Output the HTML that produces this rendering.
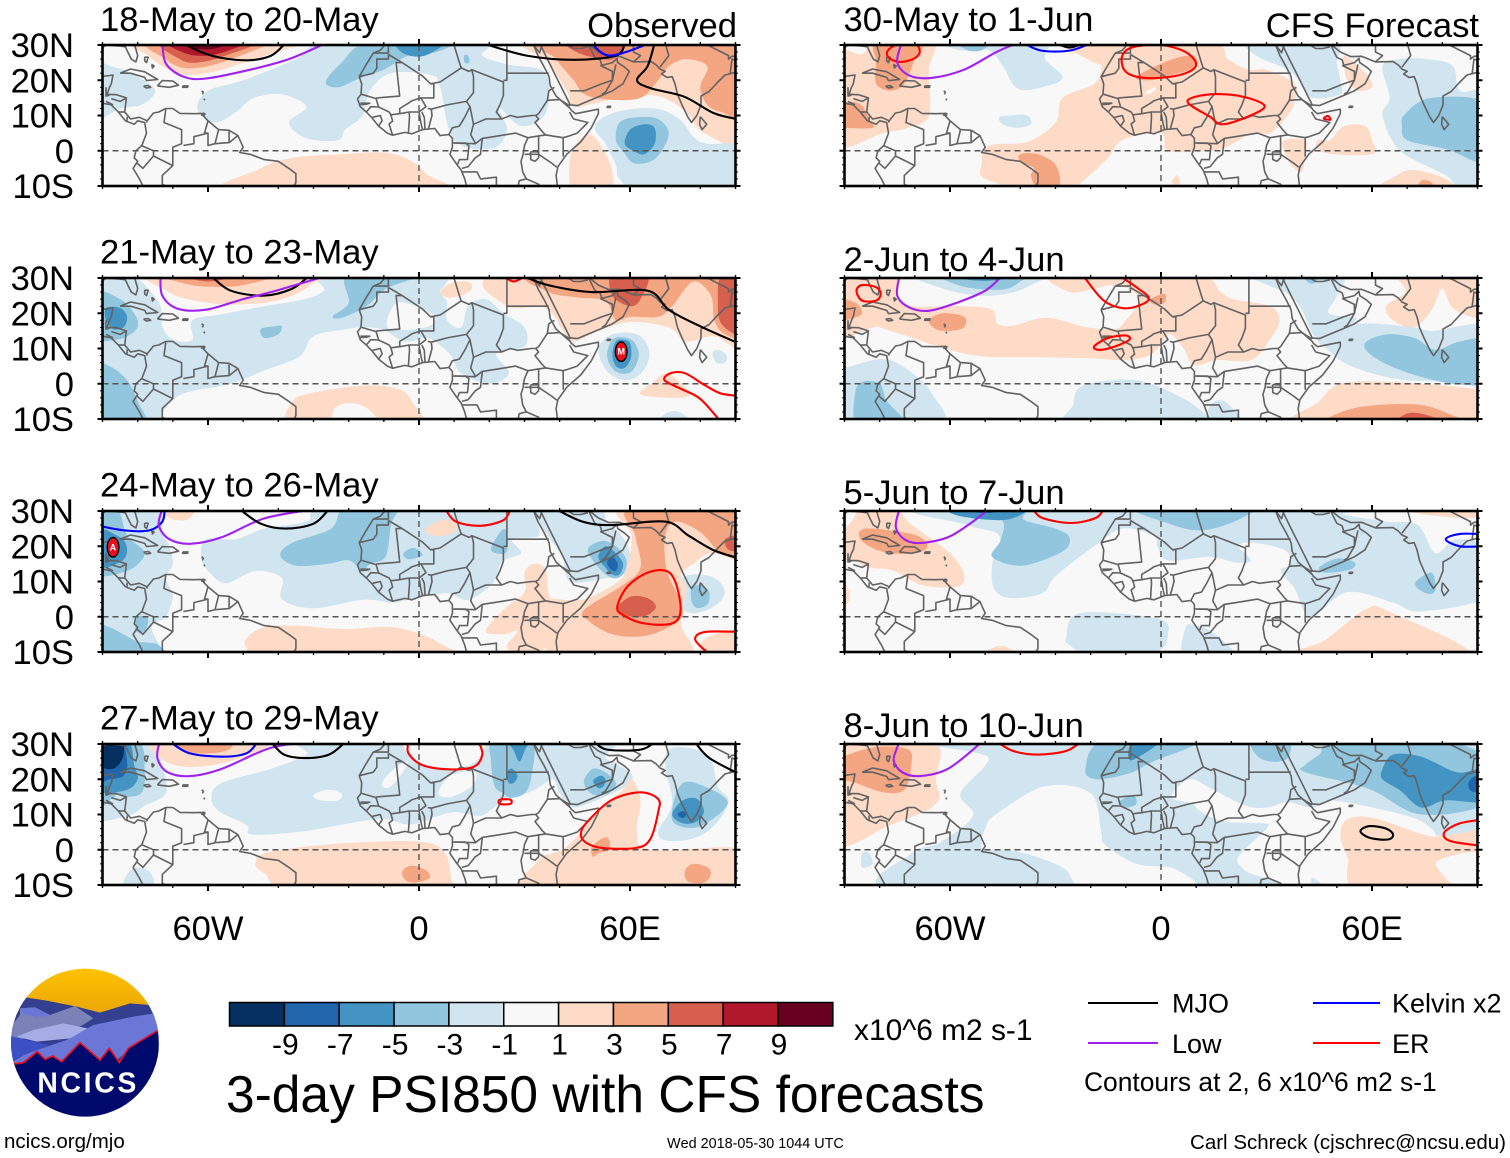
<!DOCTYPE html>
<html lang="en">
<head>
<meta charset="utf-8">
<title>3-day PSI850 with CFS forecasts</title>
<style>
html,body{margin:0;padding:0;background:#fff;}
svg{display:block;}
text{font-family:"Liberation Sans",sans-serif;fill:#000;font-kerning:none;}
</style>
</head>
<body>
<svg id="chart" xmlns="http://www.w3.org/2000/svg" width="1510" height="1158" viewBox="0 0 1510 1158">
<defs>
<linearGradient id="sky" x1="0" y1="0" x2="0" y2="1"><stop offset="0" stop-color="#ffc400"/><stop offset="1" stop-color="#e8a408"/></linearGradient>
<clipPath id="logoClip"><circle cx="255" cy="248" r="222"/></clipPath>
</defs>
<g id="panels"></g>
<g id="colorbar"></g>
<text x="854" y="1040" font-size="29.9">x10^6 m2 s-1</text>
<text x="226" y="1112" font-size="51.5">3-day PSI850 with CFS forecasts</text>
<g transform="translate(0,960) scale(0.33333)">
<g clip-path="url(#logoClip)">
<rect x="20" y="20" width="470" height="150" fill="url(#sky)"/>
<path d="M30,200 L75,112 L140,122 L230,140 L300,158 L390,130 L450,135 L480,200 L480,320 L30,320Z" fill="#34408f"/>
<path d="M30,205 L60,165 L60,145 L105,142 L150,165 L225,138 L280,175 L240,200 L30,245Z" fill="#7a82b8"/>
<path d="M60,145 L100,142 L150,165 L110,172 L65,160Z" fill="#6a77d6"/>
<path d="M30,310 L80,280 L200,240 L280,195 L400,170 L465,160 L480,210 L400,260 L350,300 L30,320Z" fill="#6a77d6"/>
<path d="M30,228 L100,245 L150,255 L60,290 L30,312Z" fill="#3c4fc4"/>
<path d="M50,230 L100,210 L190,190 L262,205 L210,235 L110,245Z" fill="#a6ade6"/>
<path d="M40,312 L70,308 L112,275 L135,298 L158,288 L185,305 L240,248 L300,300 L328,265 L358,308 L385,265 L472,212 L490,480 L20,480Z" fill="#000a6c"/>
<path d="M40,312 L70,308 L112,275 L135,298 L158,288 L185,305 L240,248 L300,300 L328,265 L358,308 L385,265 L472,212" fill="none" stroke="#e8101c" stroke-width="5"/>
</g>
<text x="112" y="398" font-size="85" font-weight="bold" textLength="297" style="fill:#fff">NCICS</text>
</g>
<text x="4" y="1148" font-size="20.5">ncics.org/mjo</text>
<text x="667" y="1148" font-size="14.4">Wed 2018-05-30 1044 UTC</text>
<text x="1190" y="1149" font-size="20.5" textLength="316">Carl Schreck (cjschrec@ncsu.edu)</text>
<g>
<line x1="1088" y1="1003" x2="1158" y2="1003" stroke="#000" stroke-width="2"/>
<text x="1172" y="1012.5" font-size="27">MJO</text>
<line x1="1313" y1="1003" x2="1380" y2="1003" stroke="#0000ff" stroke-width="2"/>
<text x="1392" y="1012.5" font-size="27">Kelvin x2</text>
<line x1="1088" y1="1043" x2="1158" y2="1043" stroke="#a020f0" stroke-width="2"/>
<text x="1172" y="1053" font-size="27">Low</text>
<line x1="1313" y1="1043" x2="1380" y2="1043" stroke="#ff0000" stroke-width="2"/>
<text x="1392" y="1053" font-size="27">ER</text>
<text x="1084" y="1091" font-size="26.4">Contours at 2, 6 x10^6 m2 s-1</text>
</g>
</svg>
<script>
// ---------- axis labels and colour bar values ----------
const latTicks = [30, 20, 10, 0, -10];
const latLabels = ["30N", "20N", "10N", "0", "10S"];
const lonTicks = [-60, 0, 60];
const lonLabels = ["60W", "0", "60E"];
const colorbarLevels = [-5, -4, -3, -2, -1, 0, 1, 2, 3, 4, 5];
const colorbarLabels = ["-9", "-7", "-5", "-3", "-1", "1", "3", "5", "7", "9"];
const leftTitles = ["18-May to 20-May", "21-May to 23-May", "24-May to 26-May", "27-May to 29-May"];
const rightTitles = ["30-May to 1-Jun", "2-Jun to 4-Jun", "5-Jun to 7-Jun", "8-Jun to 10-Jun"];
const stormMarks = [[1, 57.5, 9.1, "M"], [2, -87, 19.7, "A"]];

// ---------- geography (lon,lat pairs) ----------
const coastlines = [
[-81,30.5,-80,27,-80.5,25.2,-81.8,26,-82.8,28,-83.5,29.5,-85,29.7,-89,30,-90,29.2,-94,29.5],
[-94,18.5,-91,18.7,-90.5,21,-87,21.5,-87.5,19,-88,18,-88.7,16,-86,15.9,-83.2,15,-83.7,11,-82,9,-79.5,9.5,-77.3,8.5,-75.5,10.7,-74,11,-72,12,-70,12,-68,10.6,-64,10.5,-62,10.6,-60,8.5,-57,6,-54,5.8,-51.5,4.3,-50,1,-51,-0.5,-48,-1,-44,-2.5,-40,-3,-37,-5,-35,-6.5,-35,-9,-36,-11],
[-94,16,-90,13.5,-87.5,13,-85.5,11,-83.5,8.5,-81,7.5,-80,8.5,-78,8,-77.5,5,-78.8,1.5,-80.5,0,-81,-2,-80,-3,-81.3,-5,-79.5,-8,-78,-11],
[-85,22,-82,23.2,-78,22.4,-74.3,20.2,-77.5,19.9,-78,20.8,-82,22,-85,22],
[-74.4,18.4,-73,19.9,-70,19.8,-68.4,18.6,-71,18,-74.4,18.4],
[-78.3,18.3,-77,18.5,-76.3,18,-77.5,17.8,-78.3,18.3],
[-67.2,18.4,-65.7,18.4,-65.8,18,-67.2,18,-67.2,18.4],
[-78,26.6,-77,26.5,-77.5,25,-78,25.5,-78,26.6],
[-76,24.5,-75.3,24,-75.8,23.5,-76,24.5],
[-61.8,17,-61.3,16.6,-61.6,16],
[-61.2,14.8,-60.9,14.3],
[-61.6,10.7,-60.9,10.5,-61,10.1,-61.8,10.1,-61.6,10.7],
[-9.7,30,-11,28.5,-13,27.7,-15,24.5,-17,21,-16.3,19,-16.5,16,-17.5,14.7,-16.7,12.5,-15,11,-13.5,9.5,-11.5,7,-9,5,-7.5,4.4,-4,5.2,-2,4.8,1,6,4.5,6.3,6,4.3,8.5,4.6,9.5,3.5,9.5,1,8.8,-1,10.5,-3.5,12,-5.5,13,-8,13.8,-11],
[32.6,30,33.8,27,35.5,24,37,21,37.3,18.5,39,15.5,43,12,43.3,11.5,44.5,10.5,51,11.8,51,10.5,49,6.5,46,2.5,42,-1,39.5,-4.5,39,-7,39.5,-11],
[32.6,30,34.3,27.8,34.8,29.5,37,25,39,21,41,17,43,13,45,12.8,52,15.7,55,17,58,19,59.8,22.5,58.5,23.7,56.5,25,56.3,26.2,55,25,52,24.2,51.5,25.8,50,26.5,48.5,29.5,48.5,30,51,28,54,26.7,57,26.8,61,25.2,66,25.3,67.5,24.3,68.5,23.2,70,22.5,69,21.8,70.5,20.8,72,21,72.8,19,73.5,16,74.8,13,76.5,9.5,77.5,8,79,10,80.2,13,80.2,15.5,82.5,16.8,85,19.5,87,21.5,89,22,91,22.5,92,21,94.5,17],
[80,9.7,81.8,7.5,80.5,6,79.8,7.5,80,9.7],
[53.5,12.6,54.5,12.6,54.3,12.3,53.5,12.3,53.5,12.6],
[31.7,-0.3,34,-0.3,34,-2,33,-3,31.8,-2.5,31.7,-0.3],
[-13,27.7,-8.7,27.7,-8.7,30.5],
[-8.7,27.3,-8.7,26,-12,26,-12,23.4,-13,22,-17,21],
[-8.7,27.3,-4.8,25,1,21.2,3.3,19,4.2,19,4.2,15,0.5,15,-2,14.2,-3,13.5,-5.5,12,-5.5,10.5,-8,10.2,-8.5,11,-11.5,12.4,-12.2,14.8,-12,15,-5.5,15.5,-6.5,25,-4.8,25],
[-12.2,14.8,-16.3,16],
[-11.5,12.4,-13.7,12.5,-15,11],
[-16.7,13.5,-14,13.5,-15,13.2,-16.7,13.1],
[-13.2,9.5,-11,10,-10.5,8.5,-11.5,7],
[-8,10.2,-7.5,8.4,-8.5,7.6,-7.5,4.4],
[-3,5.1,-2.7,9.5,-2.8,11,-5.5,10.5],
[-2.8,11,0,11,2,12.5,0.5,15],
[1,6,0.5,8,0,11],
[1.7,6.2,1.5,9.5,0.8,11],
[2.7,6.3,3.7,10,3.5,11.8,2.5,12],
[3.3,19,6,19.5,12,23.5,14.2,22.5,15,23,15.5,21,15.5,16.5,13.5,14,8,13,3.5,11.8],
[15,23,24,19.5,24,15.7,23,13,22,11,23.5,9,19,9,15.5,7.5,14.7,4.5,16,2.2],
[25,30.5,25,22,36.9,22],
[25,22,25,20,24,20],
[9.8,30.5,11.5,25,12,23.5],
[8.5,4.6,9.5,6.5,11.5,7,13,9.5,14.5,12.5,13.5,14],
[14.5,12.5,15,10,15.5,7.5],
[9.6,2.2,16,2,18,3.5,22.5,4.2,27.5,5,31,3.7],
[18,3.5,17.5,-1,16,-2,14,-4.5,12.2,-5],
[10,2.2,13.2,2.2,14.2,1.4,13.8,-2.5,11.5,-2.5,11,-3.8],
[12.2,-6,16.5,-6,17.5,-8,22,-7.5,22,-11],
[31,3.7,30,1.5,29.6,-1,29,-3,29.5,-6,30.5,-8,28.5,-8.5,28,-11],
[23.5,9,26,10,28,9.5,32,10,33.2,10,34,9,33,8,35,5.5,36,4.5,34,4.2,31,3.7],
[34,10.5,36.5,14.3,36.9,17,38.5,18],
[33.2,10,34,10.5],
[36.5,14.3,40,14.5,43,12.7],
[42.8,11,44,9,48,8,45,5,42,4,41,3.7,36,4.5],
[41,3.7,41,-1.7],
[34,-1,37.7,-3.5,39.2,-4.7],
[30,-1,34,-1,34,1,34,4.2],
[30.5,-8,34,-9.5,34.5,-11.5],
[34.9,29.5,34.3,31.5],
[48,29.5,46,29,44,29,39,32],
[43,17,47,17,52,19,55,20,56,24.5],
[52,16,53,16.6,55,20],
[51.5,24.2,55,22.5,55,20],
[61,31,61,28,63,27,61,25.2],
[70,30.5,71,27,69.5,25,68.5,23.7],
[81,30.5,88,27,88,26,89,26.8,92,27,92,25,89,26,88.5,22],
[-92,18,-91,16,-92,14.5],[-89,18,-89,15.5,-88,15.8],[-89,14,-87,13],[-87.5,14.8,-85,14,-83.2,15],[-85.5,11,-83.7,11],[-83,8.5,-83,9.7],[-77.5,8,-77.3,8.5],
[-72,11.8,-72.5,8,-67.5,6,-67.5,2,-70,1,-70,-4.2,-73,-7,-73,-9.5,-70.5,-11],
[-79,1.5,-75.5,0,-75.5,-1.5,-70,-4.2],
[-80.3,-3.4,-78.5,-5,-75.5,-1.5],
[-60,8.5,-61,5,-60,5,-64,4,-64,2,-67,1.5],
[-57,6,-58,2,-60,1.5,-60,5],
[-54,5.8,-54,2.3,-58,2],
[-51.5,4.3,-54,2.3],
[-70.5,-11,-65,-10]
];

// ---------- shading regions per panel: [contour level, lon,lat pairs] ----------
const shadeObs1 = [
[1,[-79,31,-77,27,-71,23,-65,21.5,-56,23,-47,26,-37,29,-33,31]],
[2,[-76,31,-72,26,-67,23.5,-60,24,-52,26.5,-43,30,-40,31]],
[3,[-73,31,-68,26,-63,25,-55,27,-47,31]],
[4,[-71,31,-66,27.5,-60,27,-54,28.5,-50,31]],
[5,[-69,31,-64,29,-58,29,-55,31]],
[-1,[-25,31,-35,26,-50,20,-60,17,-63,12,-58,8,-52,11,-47,15,-39,16,-32,12.5,-37,8,-32,3.5,-23,3,-21,6,-16,10,-14,17,-8,22,3.4,21.5,6,18,10,3,21,0.7,25,6,22.5,12.5,29,7,36,10.6,36,22,25,24.5,18,27,17,31]],
[-2,[-26.5,19.5,-22,25,-14,31,9,31,5,28,-3,27,-10,23,-17,20.5,-23,18]],
[-3,[-6,31,-5,28,-1,26.7,3,27.5,7,31]],
[-2,[12.8,27,14,27,14.3,25,13,25]],
[-1,[-93,24,-86,23.5,-80,21,-75,17,-79,13,-85,12,-93,9]],
[1,[33,31,37,25,42,17,44,12.5,50,13.5,58,15,68,15.5,76,11,81,5,93,3,93,31]],
[2,[37,31,39,26,44,20,47,16,54,14.5,63,15,68,20,71,24,76,26,82,24,80,18,82,13,86,11,93,10,93,31]],
[3,[42,31,46,27.5,55,26,58,31]],
[-1,[50,7,56,11,67,12,74,9,78,4,82,2,93,1,93,-12,64,-12,57,-8,56,-4,53,2]],
[1,[44,-12,43,-2,46,3.5,49,4.5,52,1,55,-6,54,-12]],
[-2,[56,3,57,8,62,9.5,68,9,71,5,69,0,66,-3,61,-3.5,58,0]],
[-3,[58.5,2,60,6,64,7.5,67,6.5,67,2,64,-1,61,0]],
[1,[-55,-12,-45,-5,-36,-2,-22,-1,-10,-0.5,-3,-2.5,2,-6.5,6,-12]]
];
const shadeObs2 = [
[-1,[-93,31,-82,31,-74,23,-73,16.3,-70,12.5,-64.5,12.5,-64.5,18,-56,19.7,-44,22,-32.5,24,-27,26.5,-27,31,6,31,6,26,8,23,8,18,12,16,14,22,19,24,24,20,30,16,30,10.6,22,8.6,25.6,3,20,0,12,3,9.3,7.7,6.4,10.6,2.3,13,-4,12,-10.5,15.4,-16,16,-21,15.4,-30,13.5,-34,7.7,-44,3.8,-53.5,0,-67.5,-3,-73,-8.7,-71.5,-12,-93,-12]],
[0,[-9,16,-6,23,3.5,20,4,17,-1,15.5]],
[-2,[-93,26,-85,24,-81,20,-80,16,-84,13,-90,12,-93,12]],
[-2,[-93,5,-88,5,-83,1,-80,-5,-78,-12,-93,-12]],
[-3,[-89,21.5,-85,21.5,-83,19,-84,16,-87,15.5,-89,18]],
[-2,[-24.5,19.2,-20,23,-20,31,0,31,-9.3,27,-15,22,-22,18.7]],
[-2,[-45,15.5,-41,16.3,-39,16.3,-40,14,-44,13]],
[-1,[51,9,53,13,58,14.5,63,13.5,65.5,9,64,4,59.5,1,54,3]],
[-2,[53.5,8.5,55,12.5,58,13.2,61,12,62.5,8,60.5,3.5,57,3,54.5,5]],
[-3,[55,8.5,56,12,58,12.5,60,11.5,60.3,7.5,58.5,4.5,56,5]],
[-4,[56,9,57.2,11.5,58.7,11,59,8,57.5,6.5]],
[-1,[83.5,9,85.5,9.5,87.5,8,87,6,84.5,6]],
[-1,[68,-12,70,-8.5,74,-8,78,-12]],
[1,[-75,31,-72,26.5,-66,24,-55,22.5,-44,23,-36,25,-31,28,-30,31]],
[2,[-72,31,-67,28.5,-60,27.5,-50,28,-42,31]],
[3,[-68,31,-62,29.2,-57,29.3,-52,31]],
[1,[-35,-12,-36,-5,-30,-2.5,-15,-0.5,-6,-1.5,-2,-5,-1,-12]],
[0,[-23.5,-12,-24,-7,-19,-5.5,-14,-7.5,-12,-12]],
[1,[6,26,9,28.5,14,29,15,27,12,25,8,24.5]],
[1,[23,31,25,22,36,21.5,41,15,44,12,51,15,60,17.5,71,16,76,12,84,13.5,93,10,93,31]],
[2,[34,31,37,26,45,24.5,53,23.5,56,18,60,19,68,19,72,22,78,29,83,25,84,18,87,14,93,14,93,31]],
[3,[55,31,55,25,60,22,63,24,65,31]],
[3,[86,31,85,22,86,17,90,14,93,14,93,28]],
[1,[63,-3,66,0,70,3,73,1.5,77,-3,72,-4]]
];
const shadeObs3 = [
[-1,[-93,31,-74,31,-73,24,-71,20,-70,15,-72,11,-70,6,-72,0,-76,-3,-74,-12,-93,-12]],
[-1,[-60.5,22,-52,22,-44,25,-32,27,-24.5,31,30,31,33,28,34,23,26.5,22,29,18,23.5,15.5,21,9.6,14,4.8,8,6.7,-2,5,-7.5,4,-16,4.8,-30,2.4,-39,5,-39,11,-46.5,13,-55,9.5,-60,13,-62,17]],
[-1,[32.5,31,36,24,40.7,17,43,10,53.5,11,60,13.5,59,21,53.5,27,50.6,31]],
[-1,[74,10,78,12,84,11,87,7,84,3,78,1,74.5,3]],
[-2,[-39.5,17.5,-36,21,-25,25,-21,31,-7,31,-8,26,-9.5,17,-14,15,-16,13,-20,16,-26,15,-35,14.5]],
[-2,[-4.5,18,-1.5,19.5,1,17.5,-3,16.3]],
[-2,[20.5,19.5,23.5,24.5,25,24,25,18.5,22,18]],
[-2,[-93,31,-86,31,-83,23,-78,18,-83,13,-93,13]],
[-3,[-93,25,-85,22.5,-83,19,-85,15.5,-93,14]],
[-2,[-93,-2,-88,-3,-84,-5,-80,-7,-74,-8,-74,-12,-93,-12]],
[-2,[-80,0,-77,-0.5,-78,-4,-80.5,-4]],
[-2,[48,19,52,21.5,56,20,59,16,58,12,55,11,51,14]],
[-3,[51,17,53,20,56,18,58,15,57,12,55,12,53,14]],
[-4,[53.5,15.5,55,17,56.5,15,56,13,54.5,13.5]],
[-2,[77.5,8,80,9,82.5,7,82,3.5,79,2.5,77.5,4.5]],
[1,[-72,31,-71,28,-66,27.5,-64,31]],
[1,[2,25,7,27.5,11,26,9,23.5,4,23]],
[1,[19,-4,24,2,30,7,30,12.5,32.5,15,36,13.5,37,6,39.5,5,47,5,56,9.5,59,13.5,60.5,23,58,31,93,31,93,17,83,18,78,15,74.5,12,76,8,74.5,-2,76,-12,40,-12,36,-9,33,-11,25,-9,28,-4,24,-5]],
[2,[60.5,31,61.5,23,63,14,58,9,47,2,48,-1,55,-5,65,-5.3,74,-1,74.5,4,70.5,13,70,23,73,27,80,24,86,18,93,17,93,31]],
[3,[57,3.4,60.5,5.8,65,5.3,67.4,2.9,65,0.5,60.5,0,57,1.4]],
[3,[87,22,91,23,91,19,88,19]],
[1,[-49,-6,-44,-3,-35,-2.5,-21,-3.5,-7,-3,5,-7,7,-12,-44,-12,-49,-9]],
[1,[80,-8,84,-5,93,-4,93,-12,82,-12]]
];
const shadeObs4 = [
[-1,[-59,15,-56,19,-42,23,-32,27,-28,31,49,31,53,26,60,22,60,19,55,16,44,12,40,16,38,20,33,17,26,14.4,22,12.5,17.4,9.6,9.3,10.6,-2.3,7.2,-11.6,8.7,-32.5,5.3,-47.5,4.3,-49,7,-57,11]],
[0,[-30,15.5,-26,17,-22,16,-23,14,-28,14]],
[0,[-10.5,19,-7,23,-3,25,-6,20,-9,17.5]],
[0,[-3,31,-2,26,3,23,10,23,16,25,17.5,31]],
[0,[5.5,16,9,21,16,22,15,18,9,15]],
[-1,[-93,31,-76,31,-73,24,-72,16,-78,12.5,-83,9.6,-93,10]],
[-2,[-93,31,-80,31,-78,22,-79,16,-84,15,-86,15.5,-93,12]],
[-3,[-93,31,-83,31,-81,24,-80,20,-83,17,-90,16,-93,17]],
[-4,[-93,31,-85,31,-83,25,-84,21,-88,20,-93,19]],
[-5,[-93,31,-85,31,-84,27,-86,23.5,-89,23,-93,25]],
[-1,[-84,-12,-83,-7,-80,-5,-76,-7,-76,-12]],
[-2,[21,31,20.5,25,21.5,18,24,16,26,14.8,30,16,32,21,32,31]],
[-3,[25.5,31,27,28,28.5,25,30,28,31,31]],
[-3,[25,22,26.5,23,28,21,27,19,25.5,19]],
[-2,[47,20,49.5,23,53,22,56,19,54,16,50,15.5,47.5,17.5]],
[-3,[49.5,19.5,51.5,21,53,20,52.5,18,51,17.5]],
[-1,[68,5,72,13,70,24,72,29,82,27,85,18,88,14,85,8,79,3.5,71,2.5]],
[-2,[72,11.5,74.4,18.3,79,18.8,87.8,13.5,80,6.7,73,7.2]],
[-3,[72,10,75,14,79,14.5,81,11,79,8,75,7.5]],
[-4,[73.5,10,75,11,76,10,75,9]],
[1,[-75,31,-72,25,-63,23.5,-51,26,-43,31]],
[2,[-70,31,-64.5,27.5,-55,28,-54,31]],
[1,[-46.5,-3.8,-42,-0.5,-18.6,2,4.6,1.4,9.3,-8.7,8.7,-12,-35,-12,-44,-6.7]],
[2,[-4.7,-6,-2,-4.5,2,-5.8,3,-8,-1,-9.3,-4,-8.5]],
[1,[33,-12,34,-3,38,-1,41.5,0.5,46,5,52,12,58,17,60.5,20,63,14,62,5,66,0,93,0,93,-12]],
[2,[49,0.5,52,3.2,54,3,54,0,51,-1,49.5,-2]],
[2,[75.6,-6,78,-4,82,-5,83,-7,81,-9.3,76.5,-9]]
];
const shadeFcst1 = [
[1,[-93,27,-85,27.4,-81,31,-65,31,-66,23,-66,10,-72,6.5,-79,5,-93,2]],
[2,[-81,31,-68,31,-70,26,-73,19,-77,17,-81,19,-81,25]],
[2,[-93,13,-86,13.5,-83,9,-82,6.5,-90,6.5,-93,7]],
[1,[-26,31,-20,25.5,-17,24,-19,19,-28,15,-30,8,-38,2.5,-49,1.4,-51,-4,-50,-8,-35,-12,-27,-12,-16,-3,-11,3,0,5,2,0,13,0,18.5,1,26,5,31,5,36,10,38,14,38,19,30,23,25,23,19,26,13,31]],
[1,[35,3,41,3,41,-1,40,-6,37,-4,35,0]],
[1,[44.5,3,48,3,52,7,58,7,60,3,60,-1,46,-0.5]],
[1,[52,27,55,25,59,21,60,18,56,17,53,20,52,24]],
[2,[-7,21,2,25.5,9,27,10,24,5,22,-3,20]],
[2,[-40,-1,-35,-1,-30,-4,-29,-10,-35,-10.5,-37,-7,-36,-5,-40,-3]],
[1,[61,-12,67,-7,72,-5.5,81,-8,83,-12]],
[2,[72.5,-12,74,-8.5,77,-9,78,-12]],
[1,[3,-9,4.5,-7,5.5,-9,5,-10]],
[0,[-4.5,16.5,-2,18,-1.5,17.3,-3.5,16]],
[-1,[-61.6,31,-57,28.5,-49,28.5,-45,24,-40.5,17.5,-32,18.5,-28,21,-33,26,-34,31]],
[-2,[-58,31,-55,28.5,-51,28.5,-49,31]],
[-1,[25.5,31,27,27,36,23,40,19,43,15,51,16,51,20,50,25,49,31]],
[-1,[63,24,68,26,76,26,83,24,85,17,93,15,93,-12,85,-11,81,-7,68,0,63,10,65,15]],
[-2,[69.5,10.5,77,15,93,13,93,-3,81,0.5,70,3,68.5,7]],
[-1,[-46,9.5,-43,10,-38,10,-37,7.5,-41,6.5,-45,7.5]]
];
const shadeFcst2 = [
[1,[-93,31,-76,31,-75,24,-70,22,-56,22,-48,21,-46.5,17,-42,16.5,-32.6,18.7,-21,16,-13,15.5,-10,18,-6,24,-12,28,-19,27,-26,26,-30,31,9,31,17,26,20.5,24,31,22,33.7,18,31,12.5,25.6,6.7,16,6.7,9.3,5.3,6.4,10,2.3,14,-2.3,8.7,-9.3,6.7,-20,7.2,-36,7.5,-50,7.7,-60,9.6,-77,15,-82,16,-90,12.5,-93,12]],
[2,[-93,24,-87,23,-85,20,-88,18.5,-93,18]],
[2,[-66,18,-62,20,-56,19,-56,16,-60,15,-64,15.5]],
[2,[-3,24,1,25.5,1,23,-2,22.5]],
[1,[64,22,69.5,26,69,31,93,31,93,19,83.5,21,80,27,77,21,72,16,66,18]],
[1,[39,-12,45,-5,51,0,65,0.5,85,-1,93,-3,93,-12]],
[2,[48,-12,54.6,-7,72,-5.8,82,-8.6,86,-12]],
[3,[66,-12,68,-9.5,72,-8.2,79,-10,80,-12]],
[-1,[-69,31,-62,27,-52,25,-44,25.5,-38,27.5,-35,31]],
[-2,[-62,31,-56,27.5,-45,26.7,-40,29,-39,31]],
[-3,[-61,31,-53,29.3,-46,29.5,-43,31]],
[-1,[25.6,31,36,25.5,40,21,44.8,13,55.6,18.3,47.7,20,50,25,50.5,31]],
[-2,[41,31,41.5,29,43.5,28.5,45,31]],
[-1,[45,13,56,17,72,16,77,15,93,16,93,-1,85,0.5,70,1,60,3,52,6,47,10]],
[-2,[58,11.5,64,14,72,13,78,9.6,85,12,93,12,93,1,83,0,69,3.5,60,8]],
[-1,[-93,3,-88,5,-79,7,-72,4,-65,-3,-63,-12,-93,-12]],
[-2,[-87,-3,-85,0.5,-80,0,-78,-4.8,-73.5,-9.6,-72,-12,-86,-12]],
[-1,[-25,-12,-25,-6,-22,-0.5,-7,1,6,-4,13,-9,15,-12]],
[-1,[14,-12,14,-6,18,-5,23,-10,24,-12]]
];
const shadeFcst3 = [
[1,[-85,31,-76,31,-72,27,-68,24,-60,18,-56,12,-58,8.5,-68,9,-76,13,-83,14,-88,16,-93,16,-93,22,-88,27]],
[1,[-93,8,-89,8,-89,4,-93,3]],
[2,[-85.5,22,-84,25,-71,23.5,-66.7,21,-67.5,18.7,-73,17.8,-80,18.7]],
[1,[36,-12,46.5,-6.7,58,2,65,1.4,88,-12]],
[1,[-53,-12,-47,-8.5,-43,-9,-41,-12]],
[1,[67,24,69,25.5,73,24,73,20,70,18.5,68,20]],
[1,[70,31,75,29,90,28,93,31]],
[-1,[-65,31,-55,26,-46,23,-48,15,-47.5,8,-43,5.3,-33.7,6.7,-30,11.5,-19,20,-11,25,-2,23,-1,20,2,16,14,17,21,15.4,25.6,16,22,20,26,21,35,19,37,15,34,13,38,8,40,3,43,0,53,7,66,4,74,1.5,93,6,93,19,84,22,78,18,73,26,64,27,52,29,48,31]],
[-2,[-60.5,31,-46,28,-45.5,22,-48,17,-39.5,14.5,-28,18.5,-26,22.5,-30,25,-39,27.5,-39.5,31]],
[-3,[-60,31,-57,28.5,-44,27.5,-39,31]],
[-4,[-56,31,-52,29.5,-47,29.7,-45,31]],
[-2,[-7,31,2,26.5,12,24.5,23,28,24,31]],
[-2,[45,14,50,16.5,55,15.5,54,13.5,47,12.5]],
[-2,[72.5,10,77,12.5,78,7.5,76,6.5,73,8]],
[-1,[-27,-6,-23,1,-1,-0.5,2,-5,-2,-10,-21,-10,-26,-8]],
[-1,[7,-12,7,-3,10,-2.5,14,-4,20,-9,22,-12]],
[-1,[-93,-8,-88,-12,-93,-12]]
];
const shadeFcst4 = [
[1,[-93,31,-65,31,-64,20,-64,13,-77,7,-93,2]],
[2,[-93,25,-82,29,-72,28.5,-71,24,-73,17,-79,16.3,-87,19,-93,21]],
[1,[51,4,53,8.6,60.5,9,77,3.8,83,5.8,93,6.7,93,0,82,-3,81,-6,93,-12,57,-12,53,-2]],
[0,[79,-3,91,-1,91,-11,85,-11,80,-7]],
[-1,[-58,31,-49,26,-57,16,-53.5,9.6,-63,2,-71,-1,-74,-12,30,-12,24,-6,22,-2,30,6,29,7.5,18,8,11,11,9,13,3,15,8,20,14,17.5,24,12.5,30,12,36,13.5,43,12,48,14,60,12,72,9,77,6,80,4,93,9,93,31]],
[0,[-47,10,-33,18,-20,16,-17,5,-16,1.5,-7,-4,4,-5.5,10,-12,-20,-12,-28,-5,-41,-0.5,-50,0,-51,2,-50,6]],
[-2,[-21.5,23,-16,31,10.5,31,-2.3,25,-9.3,21.6,-18.6,20]],
[-3,[-9,29,-6,31,0,31,-6,26.5,-9,25.5]],
[-2,[26,31,27,27,31,25,36,26,36,31]],
[-2,[-12,13.5,-8,15.5,-7,13,-10,12]],
[-2,[41,24,45,27,50,31,79,31,93,25.5,93,13.5,74,10,59,17.3,41,22]],
[-3,[63,23,66,27,74,26.4,84,22,90,23,93,23,93,14,81,14,74,12,68,16.8,63,20]],
[-4,[88,20,93,22,93,16.5,88,16.8]],
[-1,[-85,-1,-83,-1,-82,-4,-85,-5]],
[-1,[43,-12,43,-8,46,-10,47,-12]]
];

// ---------- wave contours per panel: [wave type, closed flag, lon,lat pairs] ----------
const contourObs1 = [
["low",0,[-73,31,-72,24.8,-67,21,-60.5,20.5,-48,23,-37,26,-26.5,30.5]],
["mjo",0,[-67,30.5,-62,28,-56,26.3,-48,25.7,-42,27,-38,30.5]],
["mjo",0,[18,30.5,30.6,27,44,25.8,56,27,58.5,30.5]],
["kelvin",0,[49,30.5,54,27,63,29.5,64,30.5]],
["mjo",0,[67,30.5,65,24,62,20,66,17.7,75.5,15.3,84,10.6,92,8.7]]
];
const contourObs2 = [
["mjo",0,[-59,30.5,-53.5,26.4,-44,25,-36,27,-31.4,30.5]],
["low",0,[-73.5,30.5,-73,25,-68.6,21.3,-60.5,21,-50,24,-40.7,26.4,-26.7,30.5]],
["mjo",0,[29.7,30.5,37,27.9,49,26,65,26.4,71,21,80,16.3,92,11]],
["er",0,[24,30.5,27,29,30,30.5]],
["er",0,[86,-11,80,-4.3,74.4,-1.4,69.8,1,71.5,3,75.6,3,81.4,-0.5,86,-2.8,92,-3.5]]
];
const contourObs3 = [
["kelvin",0,[-92,26,-83.7,24.5,-76.7,24.5,-73,27,-72.3,30.5]],
["low",0,[-73,30.5,-74,26,-71,22,-65,20.7,-56,22.6,-44,27.9,-30,30.5]],
["mjo",0,[-51,30.5,-45,26.4,-38,25,-30,26.4,-25.6,30.5]],
["er",0,[7.5,30.5,10.5,27,17.4,25.8,24,27.4,26,30.5]],
["mjo",0,[39,30.5,46.5,27,54.6,26,70,27,76.7,23,84,18.8,92,16.3]],
["er",1,[56.4,2.9,59.3,8.6,65,12.5,70.3,13,73,9.6,74.4,1.9,72,-1.9,64,-1.9,58,0.5]],
["er",0,[92,-4.3,81.4,-4.3,78.5,-6.3,81.4,-9.6,84,-11]]
];
const contourObs4 = [
["kelvin",0,[-70.6,30.5,-65.3,27.4,-56,26.4,-49,27.4,-46,30.5]],
["low",0,[-73.8,30.5,-74.4,26,-71.5,22,-65,20.9,-56,23,-42.5,28.8,-31.4,30.5]],
["mjo",0,[-42,30.5,-38.4,27,-32.6,26,-25.6,27,-21,30.5]],
["er",0,[-3,30.5,-3,27.4,1,24,9,22.8,15.7,23.6,18,27,17,30.5]],
["er",1,[23,14.2,26,14.2,26,13,23,13]],
["er",1,[46,4.3,47.7,7.7,54.6,14,62.8,16.3,68,14.4,68,10.6,65.7,2.9,61.6,0.5,52.3,0.5,47.7,1.9]],
["mjo",0,[50,30.5,53.5,28.4,63,28.4,67,30.5]],
["mjo",0,[78.5,30.5,82.6,26,92,21]]
];
const contourFcst1 = [
["er",1,[-77.7,28.4,-74.4,30.5,-70,30.5,-68.6,28,-70.5,26,-74.4,25.2,-77.4,26.4]],
["low",0,[-73.8,30.5,-75,25,-71.5,21.3,-65,20.7,-56,23,-47,27.9,-41,30.5]],
["kelvin",0,[-39,30.5,-34,28.4,-26,28.4,-20,30.5]],
["mjo",0,[-30,30.5,-26,29.3,-22,30.5]],
["er",1,[-11,27,-8,29.4,0,30,7,28,10,24.5,7,22,0,20.7,-7,21,-10.5,23]],
["er",1,[7.5,14,14,16,23,15.4,29.5,12.7,24.5,9.6,17.4,7.5,14,9.6]],
["er",1,[46.3,9.1,47.4,9.9,48.2,8.8]]
];
const contourFcst2 = [
["er",1,[-86.6,26.4,-85,28,-81,27.4,-79.7,25.5,-81,23.6,-85,23.6]],
["low",0,[-74.4,30.5,-75,25,-71.5,21.6,-66,20.7,-58,23,-50,26.4,-45.3,30.5]],
["er",0,[-22,30.5,-16.3,23.6,-10.5,21.4,-5.2,22.6,-3.5,24.5,-7,27.4,-11.6,30.5]],
["er",1,[-19,10.6,-15,13,-10,13.7,-9,12.5,-13,10.6,-17.5,9.6]]
];
const contourFcst3 = [
["low",0,[-74.4,30.5,-75.4,25.5,-73,22,-68.6,20.9,-60.5,22.6,-53.5,27,-49,30.5]],
["er",0,[-36.4,30.5,-33.7,28,-25.6,26.6,-18.6,28,-16.3,30.5]],
["kelvin",0,[92,23.4,85,23.5,81,22,85,20,92,20]]
];
const contourFcst4 = [
["low",0,[-74.4,30.5,-76,25.5,-73.6,22,-68.6,20.9,-60.5,23,-51,30.5]],
["er",0,[-46.5,30.5,-42,28,-35,27,-27,28,-23,30.5]],
["mjo",1,[56.7,5.3,59.3,6.7,64,6,66,4.3,64.5,2.9,59.3,3.4]],
["er",0,[92,8.6,85,7.5,80.5,4.8,82.5,2.4,92,1]]
];

const leftShades = [shadeObs1, shadeObs2, shadeObs3, shadeObs4];
const rightShades = [shadeFcst1, shadeFcst2, shadeFcst3, shadeFcst4];
const leftContours = [contourObs1, contourObs2, contourObs3, contourObs4];
const rightContours = [contourFcst1, contourFcst2, contourFcst3, contourFcst4];

// ---------- styling and axis functions ----------
const levelFill = {"-5":"#053061","-4":"#2166ac","-3":"#4393c3","-2":"#92c5de","-1":"#d1e5f0","0":"#f8f8f8","1":"#fddbc7","2":"#f4a582","3":"#d6604d","4":"#b2182b","5":"#67001f"};
const waveStroke = {mjo:"#000000",low:"#a020f0",kelvin:"#0000ff",er:"#ff0000"};
const SVGNS = "http://www.w3.org/2000/svg";
const panelTops = [45, 278, 511, 744];
const columnLefts = [102.5, 844.5];
const mapWidth = 633, mapHeight = 141;
function xScale(left, lon){ return left + (lon + 90) * mapWidth / 180; }
function yScale(top, lat){ return top + (30 - lat) * mapHeight / 40; }
function mk(tag, parent, attrs){
  const el = document.createElementNS(SVGNS, tag);
  for (const k in attrs) el.setAttribute(k, attrs[k]);
  parent.appendChild(el);
  return el;
}
function toPoints(flat, left, top){
  const pts = [];
  for (let i = 0; i + 1 < flat.length; i += 2) pts.push([xScale(left, flat[i]), yScale(top, flat[i + 1])]);
  return pts;
}
function smoothPath(pts, closed){
  const n = pts.length;
  const at = function(i){ return closed ? pts[(i + n) % n] : pts[Math.max(0, Math.min(n - 1, i))]; };
  let d = "M" + pts[0][0].toFixed(1) + "," + pts[0][1].toFixed(1);
  const segs = closed ? n : n - 1;
  for (let i = 0; i < segs; i++) {
    const p0 = at(i - 1), p1 = at(i), p2 = at(i + 1), p3 = at(i + 2);
    const c1x = p1[0] + (p2[0] - p0[0]) / 6, c1y = p1[1] + (p2[1] - p0[1]) / 6;
    const c2x = p2[0] - (p3[0] - p1[0]) / 6, c2y = p2[1] - (p3[1] - p1[1]) / 6;
    d += "C" + c1x.toFixed(1) + "," + c1y.toFixed(1) + " " + c2x.toFixed(1) + "," + c2y.toFixed(1) + " " + p2[0].toFixed(1) + "," + p2[1].toFixed(1);
  }
  return d + (closed ? "Z" : "");
}
function linePath(pts){
  return pts.map(function(p, i){ return (i ? "L" : "M") + p[0].toFixed(1) + "," + p[1].toFixed(1); }).join("");
}
function rank(level){
  const a = Math.abs(level);
  return a === 1 ? 0 : (a === 0 ? 1 : a);
}

// ---------- draw panels ----------
const panelsRoot = document.getElementById("panels");
const svgRoot = document.getElementById("chart");
const defs = svgRoot.querySelector("defs");

function drawPanel(col, row, title, titleBaseline, shades, contours){
  const left = columnLefts[col], top = panelTops[row];
  const g = mk("g", panelsRoot, {});
  
  

  const clipId = "clip" + col + row;
  const clip = mk("clipPath", defs, {id: clipId});
  mk("rect", clip, {x: left, y: top, width: mapWidth, height: mapHeight});

  const plot = mk("g", g, {"clip-path": "url(#" + clipId + ")"});
  const bg = mk("rect", plot, {x: left, y: top, width: mapWidth, height: mapHeight, fill: "#f8f8f8"});
  
  

  shades.slice().sort(function(a, b){ return rank(a[0]) - rank(b[0]); }).forEach(function(s){
    const p = mk("path", plot, {d: smoothPath(toPoints(s[1], left, top), true), fill: levelFill[String(s[0])]});
    
    
  });

  coastlines.forEach(function(c){
    const p = mk("path", plot, {d: linePath(toPoints(c, left, top)), fill: "none", stroke: "#626262", "stroke-width": 1.6, "stroke-linejoin": "round"});
    
    
  });

  const eq = mk("line", plot, {x1: left, x2: left + mapWidth, y1: yScale(top, 0), y2: yScale(top, 0), stroke: "#555555", "stroke-width": 1.4, "stroke-dasharray": "6 4"});
  
  
  const pm = mk("line", plot, {x1: xScale(left, 0), x2: xScale(left, 0), y1: top, y2: top + mapHeight, stroke: "#555555", "stroke-width": 1.4, "stroke-dasharray": "6 4"});
  
  

  contours.forEach(function(c){
    const p = mk("path", plot, {d: smoothPath(toPoints(c[2], left, top), c[1] === 1), fill: "none", stroke: waveStroke[c[0]], "stroke-width": 2.1});
    
    
  });

  stormMarks.forEach(function(m){
    if (col !== 0 || m[0] !== row) return;
    const cx = xScale(left, m[1]), cy = yScale(top, m[2]);
    const s = mk("g", plot, {});
    
    
    mk("ellipse", s, {cx: cx, cy: cy, rx: 6.5, ry: 10.5, fill: "#000"});
    mk("ellipse", s, {cx: cx, cy: cy, rx: 5.2, ry: 9, fill: "#e8101c"});
    const t = mk("text", s, {x: cx, y: cy + 3, "font-size": 9, "font-weight": "bold", "text-anchor": "middle", style: "fill:#fff"});
    t.textContent = m[3];
  });

  // ticks
  const ticks = mk("g", g, {stroke: "#000"});
  
  
  for (let lon = -90; lon <= 90; lon += 10) {
    const major = lonTicks.indexOf(lon) >= 0;
    const len = major ? 6 : 3, x = xScale(left, lon);
    mk("line", ticks, {x1: x, x2: x, y1: top, y2: top - len, "stroke-width": major ? 2 : 1.3});
    mk("line", ticks, {x1: x, x2: x, y1: top + mapHeight, y2: top + mapHeight + len, "stroke-width": major ? 2 : 1.3});
  }
  for (let lat = -10; lat <= 30; lat += 2) {
    const major = lat % 10 === 0;
    const len = major ? 5 : 2.5, y = yScale(top, lat);
    mk("line", ticks, {x1: left, x2: left - len, y1: y, y2: y, "stroke-width": major ? 2 : 1});
    mk("line", ticks, {x1: left + mapWidth, x2: left + mapWidth + len, y1: y, y2: y, "stroke-width": major ? 2 : 1});
  }

  const frame = mk("rect", g, {x: left, y: top, width: mapWidth, height: mapHeight, fill: "none", stroke: "#000", "stroke-width": 2.6});
  
  

  const tt = mk("text", g, {x: col === 0 ? 100 : 843.5, y: titleBaseline, "font-size": 34.6});
  
  
  tt.textContent = title;

  if (col === 0) {
    latTicks.forEach(function(lat, i){
      const t = mk("text", g, {x: 74, y: yScale(top, lat) + 12, "font-size": 34.6, "text-anchor": "end"});
      
      
      t.textContent = latLabels[i];
    });
  }
  if (row === 3) {
    lonTicks.forEach(function(lon, i){
      const t = mk("text", g, {x: xScale(left, lon), y: top + mapHeight + 55, "font-size": 34.6, "text-anchor": "middle"});
      
      
      t.textContent = lonLabels[i];
    });
  }
}

const leftBaselines = [31, 263.5, 496.5, 729.5];
const rightBaselines = [31, 271, 504, 737];
for (let r = 0; r < 4; r++) {
  drawPanel(0, r, leftTitles[r], leftBaselines[r], leftShades[r], leftContours[r]);
  drawPanel(1, r, rightTitles[r], rightBaselines[r], rightShades[r], rightContours[r]);
}

const obs = mk("text", panelsRoot, {x: 737, y: 37, "font-size": 34.6, "text-anchor": "end"});


obs.textContent = "Observed";
const fc = mk("text", panelsRoot, {x: 1479, y: 37, "font-size": 34.6, "text-anchor": "end"});


fc.textContent = "CFS Forecast";

// ---------- colour bar ----------
const cbRoot = document.getElementById("colorbar");
const cbX = 229.5, cbY = 1002.5, cbBox = 54.85, cbH = 23.5;
colorbarLevels.forEach(function(level, i){
  const r = mk("rect", cbRoot, {x: cbX + i * cbBox, y: cbY, width: cbBox, height: cbH, fill: levelFill[String(level)], stroke: "#000", "stroke-width": 1.5});
  
  
});
colorbarLabels.forEach(function(label, i){
  const t = mk("text", cbRoot, {x: cbX + (i + 1) * cbBox + 1, y: 1054.5, "font-size": 30, "text-anchor": "middle"});
  
  
  t.textContent = label;
});
</script>
</body>
</html>
